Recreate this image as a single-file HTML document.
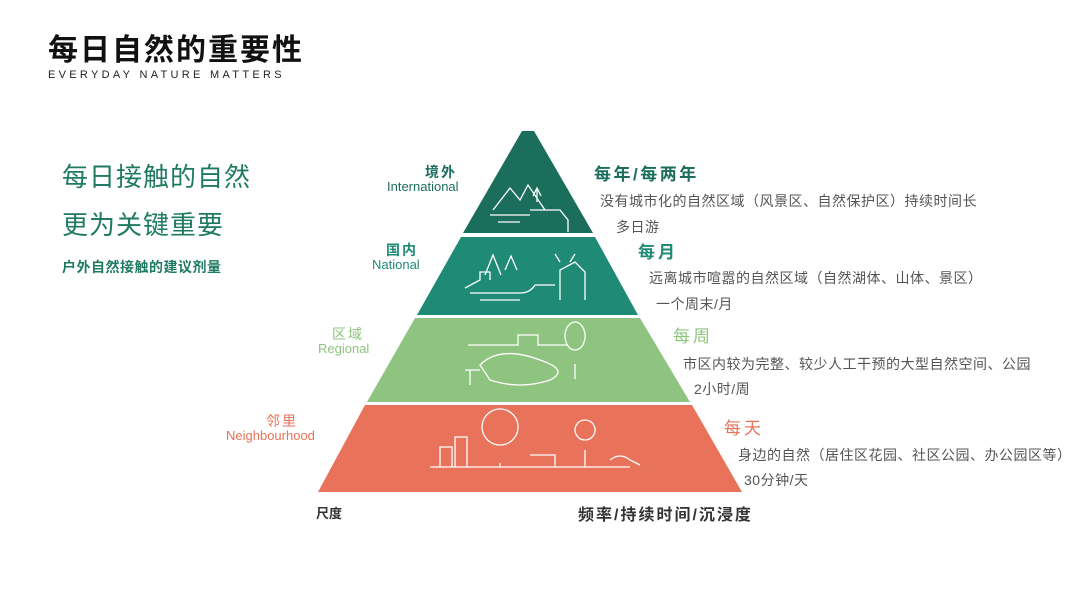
<!DOCTYPE html>
<html><head><meta charset="utf-8"><style>
body{margin:0;width:1080px;height:607px;background:#fff;position:relative;overflow:hidden;font-family:"Liberation Sans","Noto Sans CJK SC",sans-serif}
.a{position:absolute;white-space:nowrap}
.d{font-size:14px;color:#555;letter-spacing:0.5px}
</style></head><body>
<div class="a" style="left:48px;top:25px;font-size:30px;font-weight:bold;color:#111;letter-spacing:2px">每日自然的重要性</div>
<div class="a" style="left:48px;top:69px;font-size:11px;letter-spacing:3.3px;color:#222">EVERYDAY NATURE MATTERS</div>
<div class="a" style="left:62px;top:157px;font-size:26px;color:#1f7a62;letter-spacing:1px">每日接触的自然</div>
<div class="a" style="left:62px;top:205px;font-size:26px;color:#1f7a62;letter-spacing:1px">更为关键重要</div>
<div class="a" style="left:62px;top:257px;font-size:14px;font-weight:bold;color:#1f7a62;letter-spacing:0.5px">户外自然接触的建议剂量</div>

<svg class="a" style="left:0;top:0" width="1080" height="607">
<polygon points="522,131 534,131 593,233 463,233" fill="#1b6e5c"/>
<polygon points="461,237 595,237 638,315 417,315" fill="#1f8a76"/>
<polygon points="415,318 640,318 690,402 367,402" fill="#8ec47f"/>
<polygon points="365,405 692,405 742,492 318,492" fill="#e8725a"/>
<g fill="none" stroke="#fff" stroke-width="1.3">
<path d="M493,210 L510,188 L520,200 L528,185 L545,210 M490,215 H530 M498,222 H520 M530,210 h30 l8,10 v12 M537,202 v-12 M533,196 l4,-8 4,8"/>
<path d="M465,288 L480,280 v-8 h10 v8 M470,293 H520 q10,0 15,-8 h20 M480,300 h40 M485,275 l8,-20 8,20 M505,270 l6,-14 6,14 M560,300 v-30 l15,-8 l10,10 v28 M560,262 l-5,-8 M570,262 l5,-8"/>
<path d="M468,345 h50 v-10 h20 v10 h30 M480,365 q20,-20 60,-5 q30,10 10,20 q-30,10 -60,0 z M575,350 a10,14 0 1 1 0.1,0 M575,364 v15 M465,370 h15 M470,370 v15"/>
<path d="M430,467 h200 M440,467 v-20 h12 v20 M455,467 v-30 h12 v30 M500,445 a18,18 0 1 1 0.1,0 M500,463 v4 M530,455 h25 v12 M585,440 a10,10 0 1 1 0.1,0 M585,450 v17 M610,460 q10,-8 20,0 l10,5"/>
</g>
</svg>

<div class="a" style="left:425px;top:162px;font-size:14px;font-weight:bold;color:#1b6e5c;letter-spacing:2px">境外</div>
<div class="a" style="left:387px;top:179px;font-size:13px;color:#1b6e5c">International</div>
<div class="a" style="left:386px;top:240px;font-size:14px;font-weight:bold;color:#1f8a76;letter-spacing:2px">国内</div>
<div class="a" style="left:372px;top:257px;font-size:13px;color:#1f8a76">National</div>
<div class="a" style="left:332px;top:324px;font-size:14px;color:#8ec47f;letter-spacing:2px">区域</div>
<div class="a" style="left:318px;top:341px;font-size:13px;color:#8ec47f">Regional</div>
<div class="a" style="left:266px;top:411px;font-size:14px;color:#e8725a;letter-spacing:2px">邻里</div>
<div class="a" style="left:226px;top:428px;font-size:13px;color:#e8725a">Neighbourhood</div>

<div class="a" style="left:594px;top:160px;font-size:17px;font-weight:bold;color:#1b6e5c;letter-spacing:2.5px">每年/每两年</div>
<div class="a d" style="left:600px;top:191px">没有城市化的自然区域（风景区、自然保护区）持续时间长</div>
<div class="a d" style="left:616px;top:217px">多日游</div>
<div class="a" style="left:638px;top:238px;font-size:17px;font-weight:bold;color:#1f8a76;letter-spacing:3px">每月</div>
<div class="a d" style="left:649px;top:268px">远离城市喧嚣的自然区域（自然湖体、山体、景区）</div>
<div class="a d" style="left:656px;top:294px">一个周末/月</div>
<div class="a" style="left:673px;top:322px;font-size:17px;color:#8ec47f;letter-spacing:3px">每周</div>
<div class="a d" style="left:683px;top:354px">市区内较为完整、较少人工干预的大型自然空间、公园</div>
<div class="a d" style="left:694px;top:379px">2小时/周</div>
<div class="a" style="left:724px;top:414px;font-size:17px;color:#e8725a;letter-spacing:3px">每天</div>
<div class="a d" style="left:738px;top:445px">身边的自然（居住区花园、社区公园、办公园区等）</div>
<div class="a d" style="left:744px;top:470px">30分钟/天</div>
<div class="a" style="left:316px;top:503px;font-size:13px;font-weight:bold;color:#333">尺度</div>
<div class="a" style="left:578px;top:501px;font-size:16px;font-weight:bold;color:#333;letter-spacing:2px">频率/持续时间/沉浸度</div>
</body></html>
